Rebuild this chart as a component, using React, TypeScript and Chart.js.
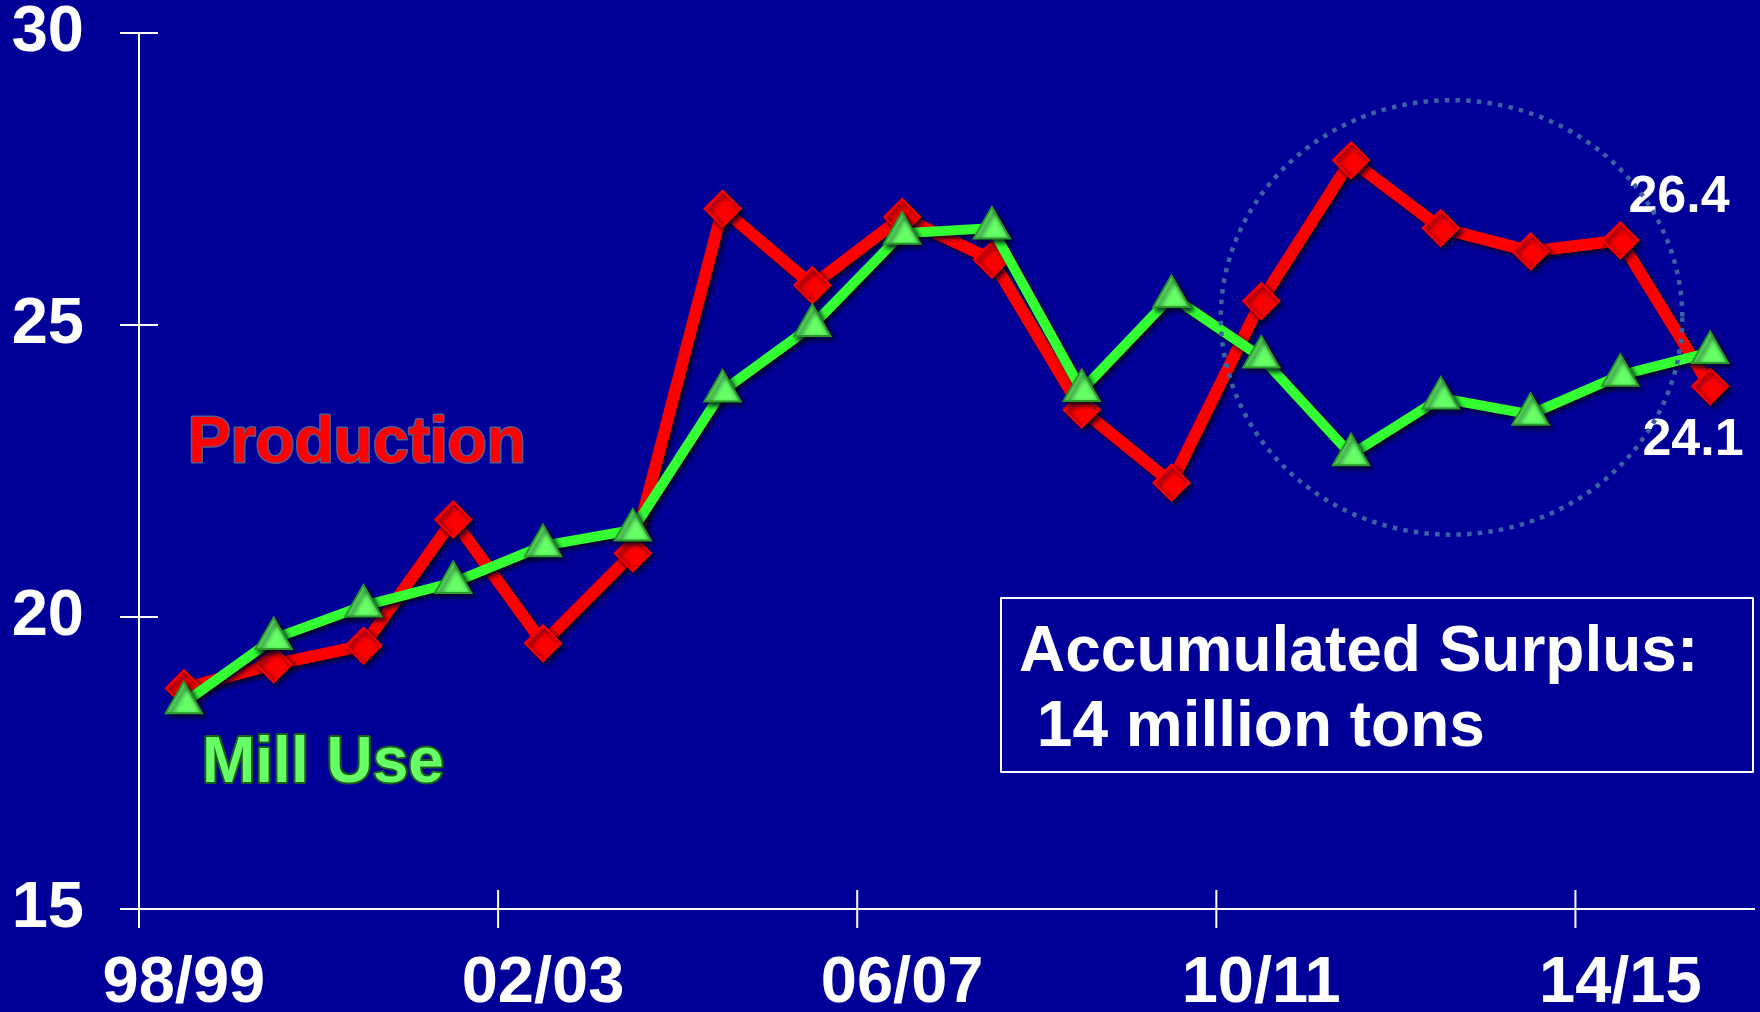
import React, { useEffect, useRef } from "react";
import { Chart, registerables } from "chart.js";

Chart.register(...registerables);

// ---- data ----
const categories = [
  "98/99", "99/00", "00/01", "01/02", "02/03", "03/04", "04/05", "05/06", "06/07",
  "07/08", "08/09", "09/10", "10/11", "11/12", "12/13", "13/14", "14/15", "15/16",
];
const production = [
  18.78, 19.19, 19.51, 21.67, 19.55, 21.09, 26.99, 25.68, 26.85,
  26.12, 23.55, 22.3, 25.41, 27.82, 26.66, 26.26, 26.45, 23.95,
];
const millUse = [
  18.53, 19.63, 20.19, 20.59, 21.22, 21.49, 23.87, 24.99, 26.57,
  26.66, 23.88, 25.49, 24.45, 22.78, 23.75, 23.47, 24.14, 24.53,
];
const yTicks = [15, 20, 25, 30];
const labelEvery = 4;
const seriesNames = ["Mill Use", "Production"];
const valueLabels = ["26.4", "24.1"];
const boxLines = ["Accumulated Surplus:", " 14 million tons"];

const BG = "#000099";
const FONT = '"Liberation Sans", Arial, Helvetica, sans-serif';
const RIGHT_GAP = 5;

const decor = {
  id: "decor",
  afterLayout(chart: any) {
    const xs = chart.scales.x;
    const target = chart.width - RIGHT_GAP;
    xs.right = target;
    xs.width = target - xs.left;
    chart.chartArea.right = target;
    chart.chartArea.width = target - chart.chartArea.left;
    xs.configure();
  },
  beforeDatasetsDraw(chart: any) {
    const ctx = chart.ctx as CanvasRenderingContext2D;
    const xs = chart.scales.x;
    const ys = chart.scales.y;
    const left = chart.chartArea.left;
    const half = (xs.getPixelForValue(1) - xs.getPixelForValue(0)) / 2;
    const right = xs.getPixelForValue(categories.length - 1) + half;
    const y0 = ys.getPixelForValue(yTicks[0]);
    const tick = 19;
    ctx.save();
    ctx.strokeStyle = "#ffffff";
    ctx.lineWidth = 2;
    ctx.beginPath();
    // y axis
    ctx.moveTo(left, ys.getPixelForValue(yTicks[yTicks.length - 1]));
    ctx.lineTo(left, y0 + tick);
    for (const v of yTicks) {
      const py = ys.getPixelForValue(v);
      ctx.moveTo(left - tick, py);
      ctx.lineTo(left + tick, py);
    }
    // x axis
    ctx.moveTo(left - tick, y0);
    ctx.lineTo(right, y0);
    for (let i = 0; i < categories.length; i += labelEvery) {
      const bx = xs.getPixelForValue(i) - half;
      ctx.moveTo(bx, y0 - tick);
      ctx.lineTo(bx, y0 + tick);
    }
    ctx.stroke();
    ctx.restore();

    // shadow for the series
    ctx.save();
    ctx.shadowColor = "rgba(0,0,35,0.9)";
    ctx.shadowBlur = 5;
    ctx.shadowOffsetX = 3;
    ctx.shadowOffsetY = 3;
  },
  afterDatasetsDraw(chart: any) {
    chart.ctx.restore();
  },
  afterDraw(chart: any) {
    const ctx = chart.ctx as CanvasRenderingContext2D;
    const xs = chart.scales.x;
    const ys = chart.scales.y;
    const band = xs.getPixelForValue(1) - xs.getPixelForValue(0);
    const unit = ys.getPixelForValue(0) - ys.getPixelForValue(1);
    ctx.save();

    // series name labels
    ctx.font = `bold 64px ${FONT}`;
    ctx.textAlign = "left";
    ctx.textBaseline = "alphabetic";
    ctx.lineJoin = "round";
    ctx.lineWidth = 3;
    ctx.strokeStyle = "#5a5a8c";
    ctx.strokeText(seriesNames[1], 188, 462);
    ctx.fillStyle = "#ff0000";
    ctx.fillText(seriesNames[1], 188, 462);
    ctx.lineWidth = 4;
    ctx.strokeStyle = "#1b5e1b";
    ctx.strokeText(seriesNames[0], 202, 782);
    ctx.fillStyle = "#66ff66";
    ctx.fillText(seriesNames[0], 202, 782);

    // value labels
    ctx.font = `bold 52px ${FONT}`;
    ctx.textAlign = "center";
    ctx.fillStyle = "#ffffff";
    ctx.fillText(valueLabels[0], 1679, 212);
    ctx.fillText(valueLabels[1], 1693, 455);

    // surplus box
    ctx.strokeStyle = "#ffffff";
    ctx.lineWidth = 2;
    ctx.strokeRect(1001, 598, 752, 174);
    ctx.font = `bold 64px ${FONT}`;
    ctx.textAlign = "left";
    ctx.fillText(boxLines[0], 1019, 671);
    ctx.fillText(boxLines[1], 1019, 746);

    // dotted ellipse
    const cx = xs.getPixelForValue(14) + band * 0.12;
    const cy = ys.getPixelForValue(25.13);
    ctx.beginPath();
    ctx.ellipse(cx, cy, band * 2.57, unit * 3.72, 0, 0, Math.PI * 2);
    ctx.strokeStyle = "#3d62a3";
    ctx.lineWidth = 4.5;
    ctx.setLineDash([4.5, 6.2]);
    ctx.lineCap = "butt";
    ctx.stroke();
    ctx.restore();
  },
};

export default function App() {
  const ref = useRef<HTMLCanvasElement>(null);
  useEffect(() => {
    document.body.style.margin = "0";
    document.body.style.background = BG;
    const yFont = { family: FONT, size: 65, weight: "bold" as const };
    const xFont = { family: FONT, size: 65, weight: "bold" as const, lineHeight: 150 / 65 };
    const chart = new Chart(ref.current!, {
      type: "line",
      data: {
        labels: categories,
        datasets: [
          {
            label: seriesNames[0],
            data: millUse,
            borderColor: "#33ff33",
            borderWidth: 10,
            tension: 0,
            pointStyle: "triangle",
            pointRadius: 21,
            pointBackgroundColor: "#66ff66",
            pointBorderColor: "#2a9a2a",
            pointBorderWidth: 2,
          },
          {
            label: seriesNames[1],
            data: production,
            borderColor: "#ff0000",
            borderWidth: 12,
            tension: 0,
            pointStyle: "rectRot",
            pointRadius: 18,
            pointBackgroundColor: "#ff0000",
            pointBorderColor: "#ff0000",
            pointBorderWidth: 2,
          },
        ],
      },
      options: {
        responsive: false,
        animation: false,
        events: [],
        layout: { padding: { top: 33, right: RIGHT_GAP, left: 0, bottom: 0 } },
        plugins: { legend: { display: false }, tooltip: { enabled: false } },
        scales: {
          x: {
            type: "category",
            offset: true,
            grid: { display: false, drawTicks: false },
            border: { display: false },
            ticks: {
              autoSkip: false,
              maxRotation: 0,
              minRotation: 0,
              color: "#ffffff",
              font: xFont,
              padding: 0,
              callback: (_v: any, i: number) => (i % labelEvery === 0 ? categories[i] : ""),
            },
            afterFit: (s: any) => {
              s.height = 103;
              s.paddingLeft = 0;
              s.paddingRight = 0;
            },
          },
          y: {
            min: yTicks[0],
            max: yTicks[yTicks.length - 1],
            grid: { display: false, drawTicks: false },
            border: { display: false },
            afterBuildTicks: (s: any) => {
              s.ticks = yTicks.map((v) => ({ value: v }));
            },
            ticks: { color: "#ffffff", font: yFont, padding: 55 },
            afterFit: (s: any) => {
              s.width = 139;
              s.paddingTop = 0;
              s.paddingBottom = 0;
              s.paddingLeft = 0;
              s.paddingRight = 0;
            },
          },
        },
      },
      plugins: [decor],
    });
    return () => chart.destroy();
  }, []);
  return (
    <div style={{ position: "fixed", left: 0, top: 0, width: 1760, height: 1012, background: BG }}>
      <canvas ref={ref} width={1760} height={1012} style={{ display: "block", width: 1760, height: 1012 }} />
    </div>
  );
}
